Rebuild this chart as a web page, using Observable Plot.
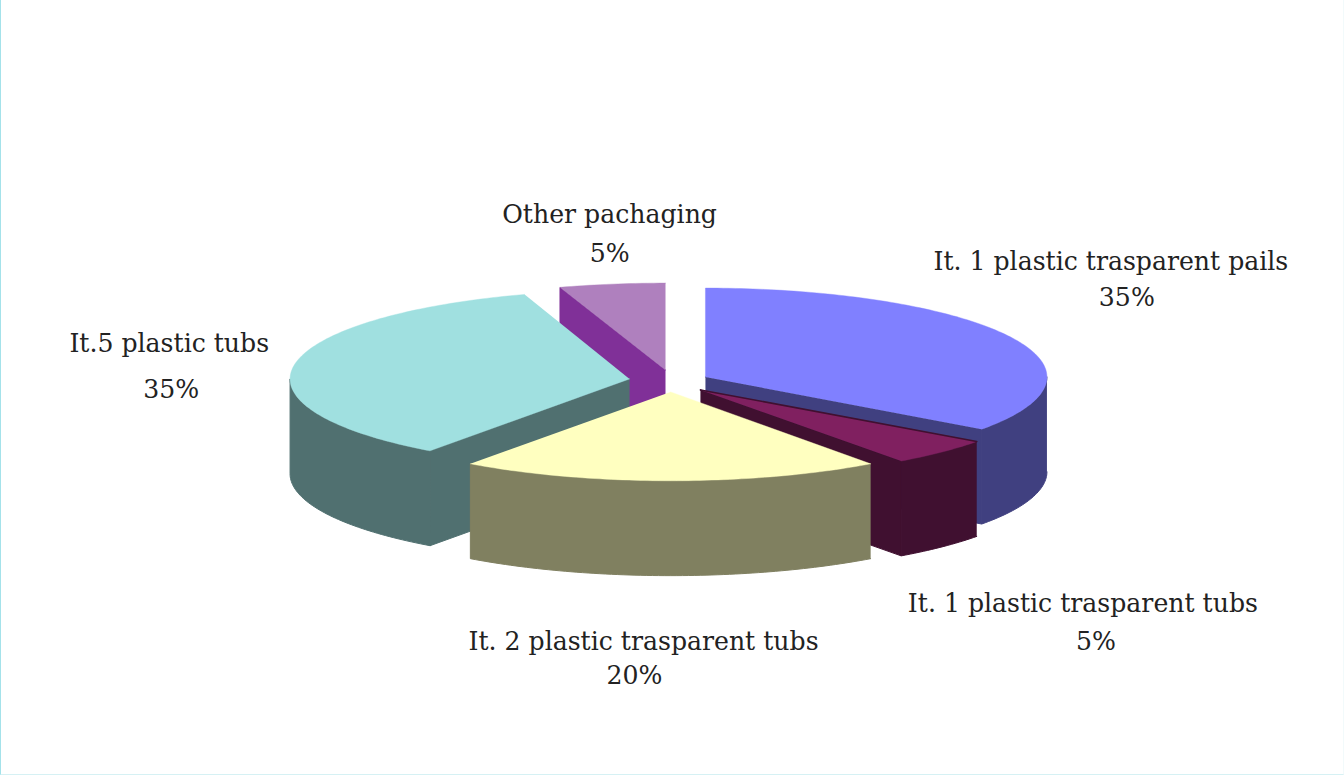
<!DOCTYPE html>
<html>
<head>
<meta charset="utf-8">
<script src="https://cdn.jsdelivr.net/npm/d3@7"></script>
<script src="https://cdn.jsdelivr.net/npm/@observablehq/plot@0.6"></script>
<style>
  html, body { margin: 0; padding: 0; background: #fff; }
  #frame {
    position: relative; width: 1344px; height: 775px; box-sizing: border-box; overflow: hidden;
    border-left: 1px solid #a4e2ea; border-bottom: 1px solid #d6f1f4; border-right: 1px solid #f2fafb;
  }
  #chart { position: absolute; left: 0; top: 0; }
  #chart svg { display: block; }
</style>
</head>
<body>
<div id="frame"><div id="chart"></div></div>
<script>
// Packaging shares, clockwise from twelve o'clock
const categories = [
  "It. 1 plastic trasparent pails",
  "It. 1 plastic trasparent tubs",
  "It. 2 plastic trasparent tubs",
  "It.5 plastic tubs",
  "Other pachaging"
];
const shares = [35, 5, 20, 35, 5];

// Fill colours of the slices: top face and the darker side walls
const topColors = ["#8080ff", "#802060", "#ffffc0", "#a0e0e0", "#af80be"];
const sideColors = ["#404080", "#401030", "#808060", "#507070", "#803098"];

// Exploded position of each slice's apex on the drawing surface
const apexX = [705, 700, 670, 629, 665];
const apexY = [377, 390, 392, 379, 370];
const radiusX = [342, 342, 341, 340, 342];
const radiusY = [89, 88, 89, 89, 87];
const depth = 95;

// Label placement: category line and percentage line
const nameX = [1111, 1083, 643, 168, 609];
const nameY = [270, 612, 650, 352, 223];
const pctX = [1127, 1096, 634, 170, 609];
const pctY = [306, 650, 685, 398, 262];

const width = 1344, height = 775;
const font = "'DejaVu Serif', serif";

// Turn the shares into start and end angles in degrees
let running = 0;
const slices = shares.map((s, i) => {
  const start = running / d3.sum(shares) * 360;
  running += s;
  return {i, start, end: running / d3.sum(shares) * 360};
});

const rad = d => d * Math.PI / 180;
const rim = (i, deg, drop = 0) => ({
  x: apexX[i] + radiusX[i] * Math.sin(rad(deg)),
  y: apexY[i] - radiusY[i] * Math.cos(rad(deg)) + drop
});
const apex = (i, drop = 0) => ({x: apexX[i], y: apexY[i] + drop});
const arc = (i, a, b, drop = 0) => {
  const n = Math.max(1, Math.ceil(Math.abs(b - a)));
  return d3.range(n + 1).map(k => rim(i, a + (b - a) * k / n, drop));
};

// One filled polygon through the shared x and y scales
const face = (points, fill, strokeWidth = 1) =>
  Plot.line(points, {x: "x", y: "y", fill, stroke: fill, strokeWidth, curve: "linear"});

function sliceMarks({i, start, end}) {
  const marks = [];
  const side = sideColors[i];
  // Cut faces that turn towards the viewer
  if (end < 180) marks.push(face([apex(i), rim(i, end), rim(i, end, depth), apex(i, depth)], side));
  if (start > 180) marks.push(face([apex(i), rim(i, start), rim(i, start, depth), apex(i, depth)], side));
  // Outer wall, front half of the ellipse only
  const a = Math.max(start, 90), b = Math.min(end, 270);
  if (a < b) marks.push(face([...arc(i, a, b), ...arc(i, b, a, depth)], side));
  // Top face
  marks.push(face([apex(i), ...arc(i, start, end)], topColors[i], 0.4));
  return marks;
}

// Painter's order, back of the pie first
const paintOrder = [4, 3, 0, 1, 2];
const marks = paintOrder.flatMap(i => sliceMarks(slices[i]));

// Fine dark lip along the back edge of the small maroon slice
marks.splice(marks.length - 2, 0,
  Plot.line([apex(1), rim(1, slices[1].start)], {x: "x", y: "y", stroke: sideColors[1], strokeWidth: 1.6}));

const labelStyle = {fontFamily: font, fontSize: 25.2, fill: "#222", textAnchor: "middle", lineAnchor: "bottom", stroke: null};
const names = categories.map((name, i) => ({name, x: nameX[i], y: nameY[i]}));
const pcts = shares.map((s, i) => ({name: `${s}%`, x: pctX[i], y: pctY[i]}));

const plot = Plot.plot({
  width, height,
  margin: 0,
  x: {domain: [0, width], axis: null},
  y: {domain: [height, 0], axis: null},
  style: {background: "transparent"},
  marks: [
    ...marks,
    Plot.text(names, {x: "x", y: "y", text: "name", ...labelStyle}),
    Plot.text(pcts, {x: "x", y: "y", text: "name", ...labelStyle})
  ]
});
document.getElementById("chart").appendChild(plot);
</script>
</body>
</html>
